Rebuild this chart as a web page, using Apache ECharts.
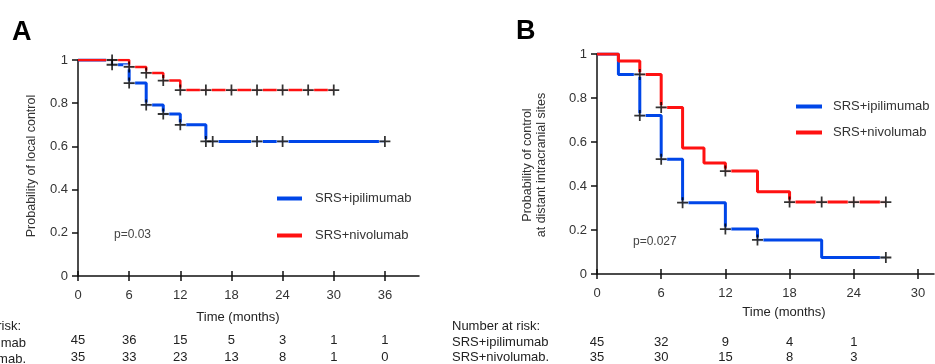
<!DOCTYPE html>
<html>
<head>
<meta charset="utf-8">
<script src="https://cdn.jsdelivr.net/npm/echarts@6/dist/echarts.min.js"></script>
<style>
html,body{margin:0;padding:0;background:#fff;}
#c{width:935px;height:364px;}
</style>
</head>
<body>
<div id="c"></div>
<script>
// ---------- Data ----------
// Panel A: local control
const tA_ipi = [0, 4, 6, 8, 10, 12, 15, 36];
const sA_ipi = [1, 0.978, 0.893, 0.792, 0.75, 0.70, 0.623, 0.623];
const tA_nivo = [0, 6, 8, 10, 12, 30];
const sA_nivo = [1, 0.968, 0.94, 0.905, 0.861, 0.861];
const cA_ipi_t = [4, 6, 8, 10, 12, 15, 15.8, 21, 24, 36];
const cA_ipi_s = [0.978, 0.893, 0.792, 0.75, 0.70, 0.623, 0.623, 0.623, 0.623, 0.623];
const cA_nivo_t = [4, 6, 8, 10, 12, 15, 18, 21, 24, 27, 30];
const cA_nivo_s = [1, 0.968, 0.94, 0.905, 0.861, 0.861, 0.861, 0.861, 0.861, 0.861, 0.861];
const ticksA = [0, 6, 12, 18, 24, 30, 36];
const riskA_ipi = [45, 36, 15, 5, 3, 1, 1];
const riskA_nivo = [35, 33, 23, 13, 8, 1, 0];

// Panel B: distant intracranial control
const tB_ipi = [0, 2, 4, 6, 8, 12, 15, 21, 27];
const sB_ipi = [1, 0.907, 0.72, 0.522, 0.324, 0.204, 0.155, 0.075, 0.075];
const tB_nivo = [0, 2, 4, 6, 8, 10, 12, 15, 18, 27];
const sB_nivo = [1, 0.968, 0.907, 0.757, 0.573, 0.505, 0.468, 0.374, 0.327, 0.327];
const cB_ipi_t = [4, 6, 8, 12, 15, 27];
const cB_ipi_s = [0.72, 0.522, 0.324, 0.204, 0.155, 0.075];
const cB_nivo_t = [4, 6, 12, 18, 21, 24, 27];
const cB_nivo_s = [0.907, 0.757, 0.468, 0.327, 0.327, 0.327, 0.327];
const ticksB = [0, 6, 12, 18, 24, 30];
const riskTimesB = [0, 6, 12, 18, 24];
const riskB_ipi = [45, 32, 9, 4, 1];
const riskB_nivo = [35, 30, 15, 8, 3];

const names = ['SRS+ipilimumab', 'SRS+nivolumab'];
// ---------------------------------------------------

const BLUE = '#0046e8', RED = '#ff1111';
const FONT = 'Liberation Sans, Arial, sans-serif';
const zip = (a, b) => a.map((v, i) => [v, b[i]]);
const CROSS = 'path://M4.2,0 L5.8,0 L5.8,10 L4.2,10 Z M0,4.2 L10,4.2 L10,5.8 L0,5.8 Z';

function mainX(grid, max, ticks) {
  return [
    { type: 'value', gridIndex: grid, min: 0, max: max, position: 'bottom',
      axisLine: { lineStyle: { color: '#111', width: 1.5 } },
      axisTick: { customValues: ticks, length: 5, lineStyle: { color: '#111', width: 1.5 } },
      axisLabel: { customValues: ticks, color: '#333', fontSize: 13, fontFamily: FONT, margin: 13 },
      splitLine: { show: false } },
    { type: 'value', gridIndex: grid, min: 0, max: max, position: 'bottom',
      axisLine: { show: false },
      axisTick: { customValues: ticks, inside: true, length: 5, lineStyle: { color: '#111', width: 1.5 } },
      axisLabel: { show: false }, splitLine: { show: false } }
  ];
}
function riskX(grid, max, times, vals, offset) {
  return { type: 'value', gridIndex: grid, min: 0, max: max, position: 'bottom', offset: offset,
    axisLine: { show: false }, axisTick: { show: false }, splitLine: { show: false },
    axisLabel: { customValues: times, color: '#222', fontSize: 13, fontFamily: FONT, margin: 9,
      formatter: v => String(vals[times.indexOf(v)]) } };
}
function mainY(grid) {
  return [
    { type: 'value', gridIndex: grid, min: 0, max: 1, interval: 0.2,
      axisLine: { show: true, lineStyle: { color: '#111', width: 1.5 } },
      axisTick: { show: true, length: 6, lineStyle: { color: '#111', width: 1.5 } },
      axisLabel: { color: '#333', fontSize: 13, fontFamily: FONT, margin: 10 },
      splitLine: { show: false } },
    { type: 'value', gridIndex: grid, min: 0, max: 1, interval: 0.2,
      axisLine: { show: false },
      axisTick: { show: true, inside: true, length: 6, lineStyle: { color: '#111', width: 1.5 } },
      axisLabel: { show: false }, splitLine: { show: false } }
  ];
}
function km(name, xi, yi, t, s, color, w) {
  return { name: name, type: 'line', step: 'end', xAxisIndex: xi, yAxisIndex: yi,
    data: zip(t, s), showSymbol: false, symbol: 'none', z: 2,
    lineStyle: { color: color, width: w }, itemStyle: { color: color } };
}
function censor(xi, yi, t, s) {
  return [
    { name: 'gap', type: 'scatter', xAxisIndex: xi, yAxisIndex: yi, data: zip(t, s), z: 3,
      symbol: 'rect', symbolSize: [12, 5], itemStyle: { color: '#fff' }, silent: true },
    { name: 'censored', type: 'scatter', xAxisIndex: xi, yAxisIndex: yi, data: zip(t, s), z: 4,
      symbol: CROSS, symbolSize: 11, itemStyle: { color: '#000' }, silent: true }
  ];
}
function txt(text, x, y, opt) {
  opt = opt || {};
  return { type: 'text', x: x, y: y, rotation: opt.rotation || 0, z: 10,
    style: { text: text, fill: opt.fill || '#333', fontSize: opt.size || 13,
      fontFamily: FONT, fontWeight: opt.weight || 'normal',
      textAlign: opt.align || 'left', textVerticalAlign: 'middle', lineHeight: opt.lh || 15 } };
}

const chart = echarts.init(document.getElementById('c'), null, { renderer: 'canvas' });
const option = {
  animation: false,
  backgroundColor: '#fff',
  grid: [
    { left: 78, top: 60, width: 341, height: 221 },
    { left: 597, top: 54, width: 337, height: 221 }
  ],
  xAxis: [].concat(
    mainX(0, 40, ticksA),
    [riskX(0, 40, ticksA, riskA_ipi, 49), riskX(0, 40, ticksA, riskA_nivo, 66)],
    mainX(1, 31.5, ticksB),
    [riskX(1, 31.5, riskTimesB, riskB_ipi, 53), riskX(1, 31.5, riskTimesB, riskB_nivo, 68)]
  ),
  yAxis: [].concat(mainY(0), mainY(1)),
  legend: [
    { data: names, orient: 'vertical', left: 277, top: 192, padding: 0, itemWidth: 25, itemHeight: 4,
      itemGap: 24, icon: 'rect', selectedMode: false,
      textStyle: { color: '#333', fontSize: 13, fontFamily: FONT, padding: [0, 0, 0, 8] } },
    { data: names, orient: 'vertical', left: 796, top: 100, padding: 0, itemWidth: 26, itemHeight: 4,
      itemGap: 13, icon: 'rect', selectedMode: false,
      textStyle: { color: '#333', fontSize: 13, fontFamily: FONT, padding: [0, 0, 0, 6] } }
  ],
  series: [].concat(
    [km(names[0], 0, 0, tA_ipi, sA_ipi, BLUE, 3), km(names[1], 0, 0, tA_nivo, sA_nivo, RED, 2.5)],
    censor(0, 0, cA_ipi_t, cA_ipi_s), censor(0, 0, cA_nivo_t, cA_nivo_s),
    [km(names[0], 4, 2, tB_ipi, sB_ipi, BLUE, 3), km(names[1], 4, 2, tB_nivo, sB_nivo, RED, 3)],
    censor(4, 2, cB_ipi_t, cB_ipi_s), censor(4, 2, cB_nivo_t, cB_nivo_s)
  ),
  graphic: [
    txt('A', 12, 33, { size: 27, weight: 'bold', fill: '#000' }),
    txt('B', 516, 32, { size: 27, weight: 'bold', fill: '#000' }),
    txt('Probability of local control', 32, 166, { rotation: Math.PI / 2, align: 'center', size: 12.5 }),
    txt('Probability of control\nat distant intracranial sites', 535, 165, { rotation: Math.PI / 2, align: 'center', size: 12.5, lh: 14 }),
    txt('Time (months)', 238, 317, { align: 'center', fill: '#222' }),
    txt('Time (months)', 784, 312, { align: 'center', fill: '#222' }),
    txt('p=0.03', 114, 235, { size: 12, fill: '#444' }),
    txt('p=0.027', 633, 242, { size: 12, fill: '#444' }),
    txt('Number at risk:', 21, 326, { align: 'right', fill: '#222' }),
    txt('SRS+ipilimumab', 26, 343, { align: 'right', fill: '#222' }),
    txt('SRS+nivolumab.', 26, 359, { align: 'right', fill: '#222' }),
    txt('Number at risk:', 452, 326, { fill: '#222' }),
    txt('SRS+ipilimumab', 452, 342, { fill: '#222' }),
    txt('SRS+nivolumab.', 452, 357, { fill: '#222' })
  ]
};
chart.setOption(option);
</script>
</body>
</html>
